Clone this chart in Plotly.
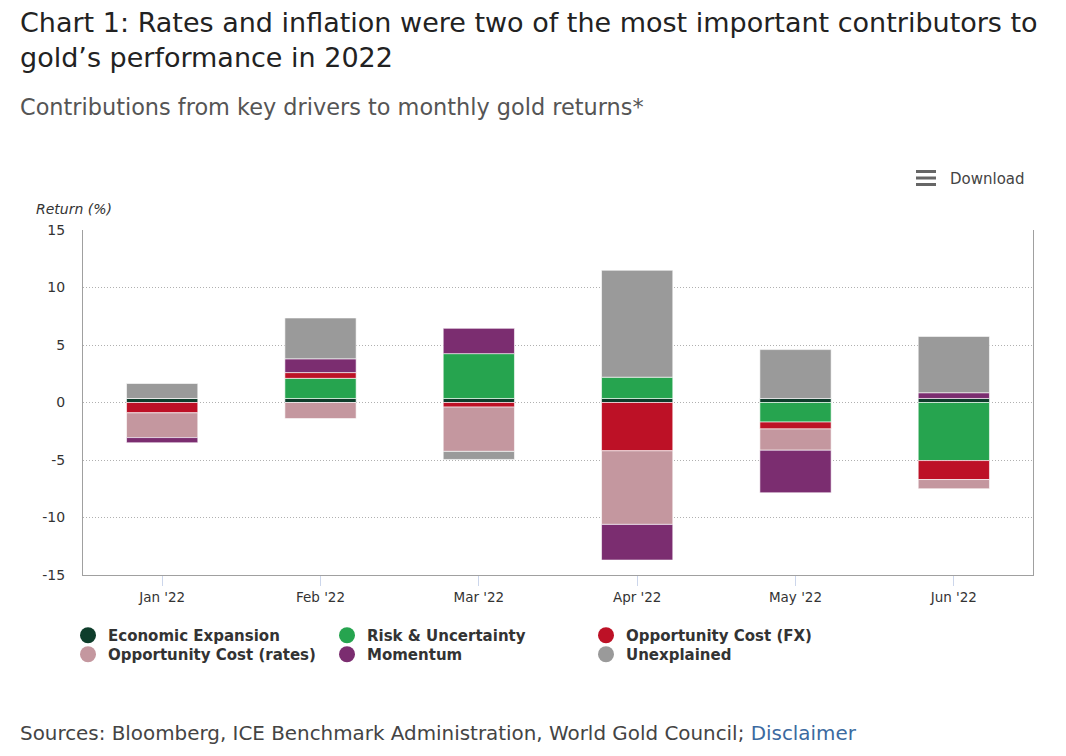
import plotly.graph_objects as go

months = ["Jan '22", "Feb '22", "Mar '22", "Apr '22", "May '22", "Jun '22"]
economic_expansion = [0.35, 0.35, 0.35, 0.35, 0.35, 0.35]
risk_uncertainty = [0.0, 1.75, 3.9, 1.85, -1.7, -5.05]
opp_cost_fx = [-0.9, 0.5, -0.4, -4.2, -0.6, -1.65]
opp_cost_rates = [-2.15, -1.4, -3.85, -6.4, -1.85, -0.8]
momentum = [-0.45, 1.2, 2.2, -3.1, -3.7, 0.5]
unexplained = [1.3, 3.55, -0.7, 9.3, 4.25, 4.9]
y_ticks = [-15, -10, -5, 0, 5, 10, 15]
y_tick_labels = ["-15", "-10", "-5", "0", "5", "10", "15"]

series = [
    ("Economic Expansion", economic_expansion, "#0e3d2b"),
    ("Risk & Uncertainty", risk_uncertainty, "#26a44f"),
    ("Opportunity Cost (FX)", opp_cost_fx, "#bd1126"),
    ("Opportunity Cost (rates)", opp_cost_rates, "#c4979f"),
    ("Momentum", momentum, "#7b2d70"),
    ("Unexplained", unexplained, "#9a9a9a"),
]

W, H = 1066, 756
L, R, T, B = 83, 1033, 230, 575  # plot area in page px


def px_x(px):
    return (px - L) / (R - L)


def px_y(py):
    return (B - py) / (B - T)


fig = go.Figure()
for name, vals, col in series:
    fig.add_trace(go.Bar(
        x=months, y=vals, name=name, width=0.45,
        marker=dict(color=col, line=dict(color="white", width=0.6)),
        legendgroup=name, showlegend=False,
    ))
for i, (name, vals, col) in enumerate(series):
    fig.add_trace(go.Scatter(
        x=[None], y=[None], mode="markers", name=name, legendgroup=name,
        legend="legend" if i < 3 else "legend2",
        marker=dict(color=col, size=16, symbol="circle"),
    ))

font_title = "DejaVu Sans"
ann = []
ann.append(dict(text="Chart 1: Rates and inflation were two of the most important contributors to",
                x=px_x(18), y=px_y(22), xanchor="left", yanchor="middle",
                font=dict(family=font_title, size=27, color="#222222")))
ann.append(dict(text="gold’s performance in 2022",
                x=px_x(18), y=px_y(58), xanchor="left", yanchor="middle",
                font=dict(family=font_title, size=27, color="#222222")))
ann.append(dict(text="Contributions from key drivers to monthly gold returns*",
                x=px_x(18), y=px_y(107), xanchor="left", yanchor="middle",
                font=dict(family=font_title, size=22.4, color="#555555")))
ann.append(dict(text="<i>Return (%)</i>",
                x=px_x(34), y=px_y(209), xanchor="left", yanchor="middle",
                font=dict(family="DejaVu Sans", size=14, color="#333333")))
ann.append(dict(text="Download",
                x=px_x(948), y=px_y(179), xanchor="left", yanchor="middle",
                font=dict(family="DejaVu Sans", size=15, color="#444444")))
ann.append(dict(text="Sources: Bloomberg, ICE Benchmark Administration, World Gold Council; "
                     "<span style='color:#3b6aa0'>Disclaimer</span>",
                x=px_x(18), y=px_y(733), xanchor="left", yanchor="middle",
                font=dict(family=font_title, size=19.9, color="#444444")))
for a in ann:
    a.update(xref="paper", yref="paper", showarrow=False)

shapes = []
for yy in (171.5, 178, 184.5):
    shapes.append(dict(type="line", xref="paper", yref="paper",
                       x0=px_x(916), x1=px_x(936), y0=px_y(yy), y1=px_y(yy),
                       line=dict(color="#666666", width=3)))

legend_common = dict(orientation="h", xanchor="left", yanchor="top",
                     entrywidth=214, entrywidthmode="pixels", traceorder="normal",
                     font=dict(family="DejaVu Sans", size=15, color="#333333", weight="bold"),
                     itemclick=False, itemdoubleclick=False, bgcolor="rgba(0,0,0,0)")

fig.update_layout(
    width=W, height=H,
    margin=dict(l=L, r=W - R, t=T, b=H - B),
    paper_bgcolor="white", plot_bgcolor="white",
    barmode="relative",
    annotations=ann, shapes=shapes,
    showlegend=True,
    legend=dict(x=px_x(68), y=px_y(619), **legend_common),
    legend2=dict(x=px_x(68), y=px_y(638), **legend_common),
    xaxis=dict(showline=True, linecolor="#a0a0a0", linewidth=1,
               ticks="outside", ticklen=10, tickcolor="#ccd6eb",
               tickfont=dict(family="DejaVu Sans", size=13.5, color="#333333"),
               showgrid=False, fixedrange=True),
    yaxis=dict(range=[-15, 15], tickvals=y_ticks, ticktext=y_tick_labels,
               showline=True, mirror=True,
               linecolor="#a0a0a0", linewidth=1,
               showgrid=True, gridcolor="#b0b0b0", griddash="1px,2px", gridwidth=1,
               zeroline=False, ticks="", ticklabelstandoff=14,
               tickfont=dict(family="DejaVu Sans", size=14, color="#333333"),
               fixedrange=True),
)

fig.write_html("out.html", config={"displayModeBar": False},
               post_script="document.body.style.margin='0px';")
